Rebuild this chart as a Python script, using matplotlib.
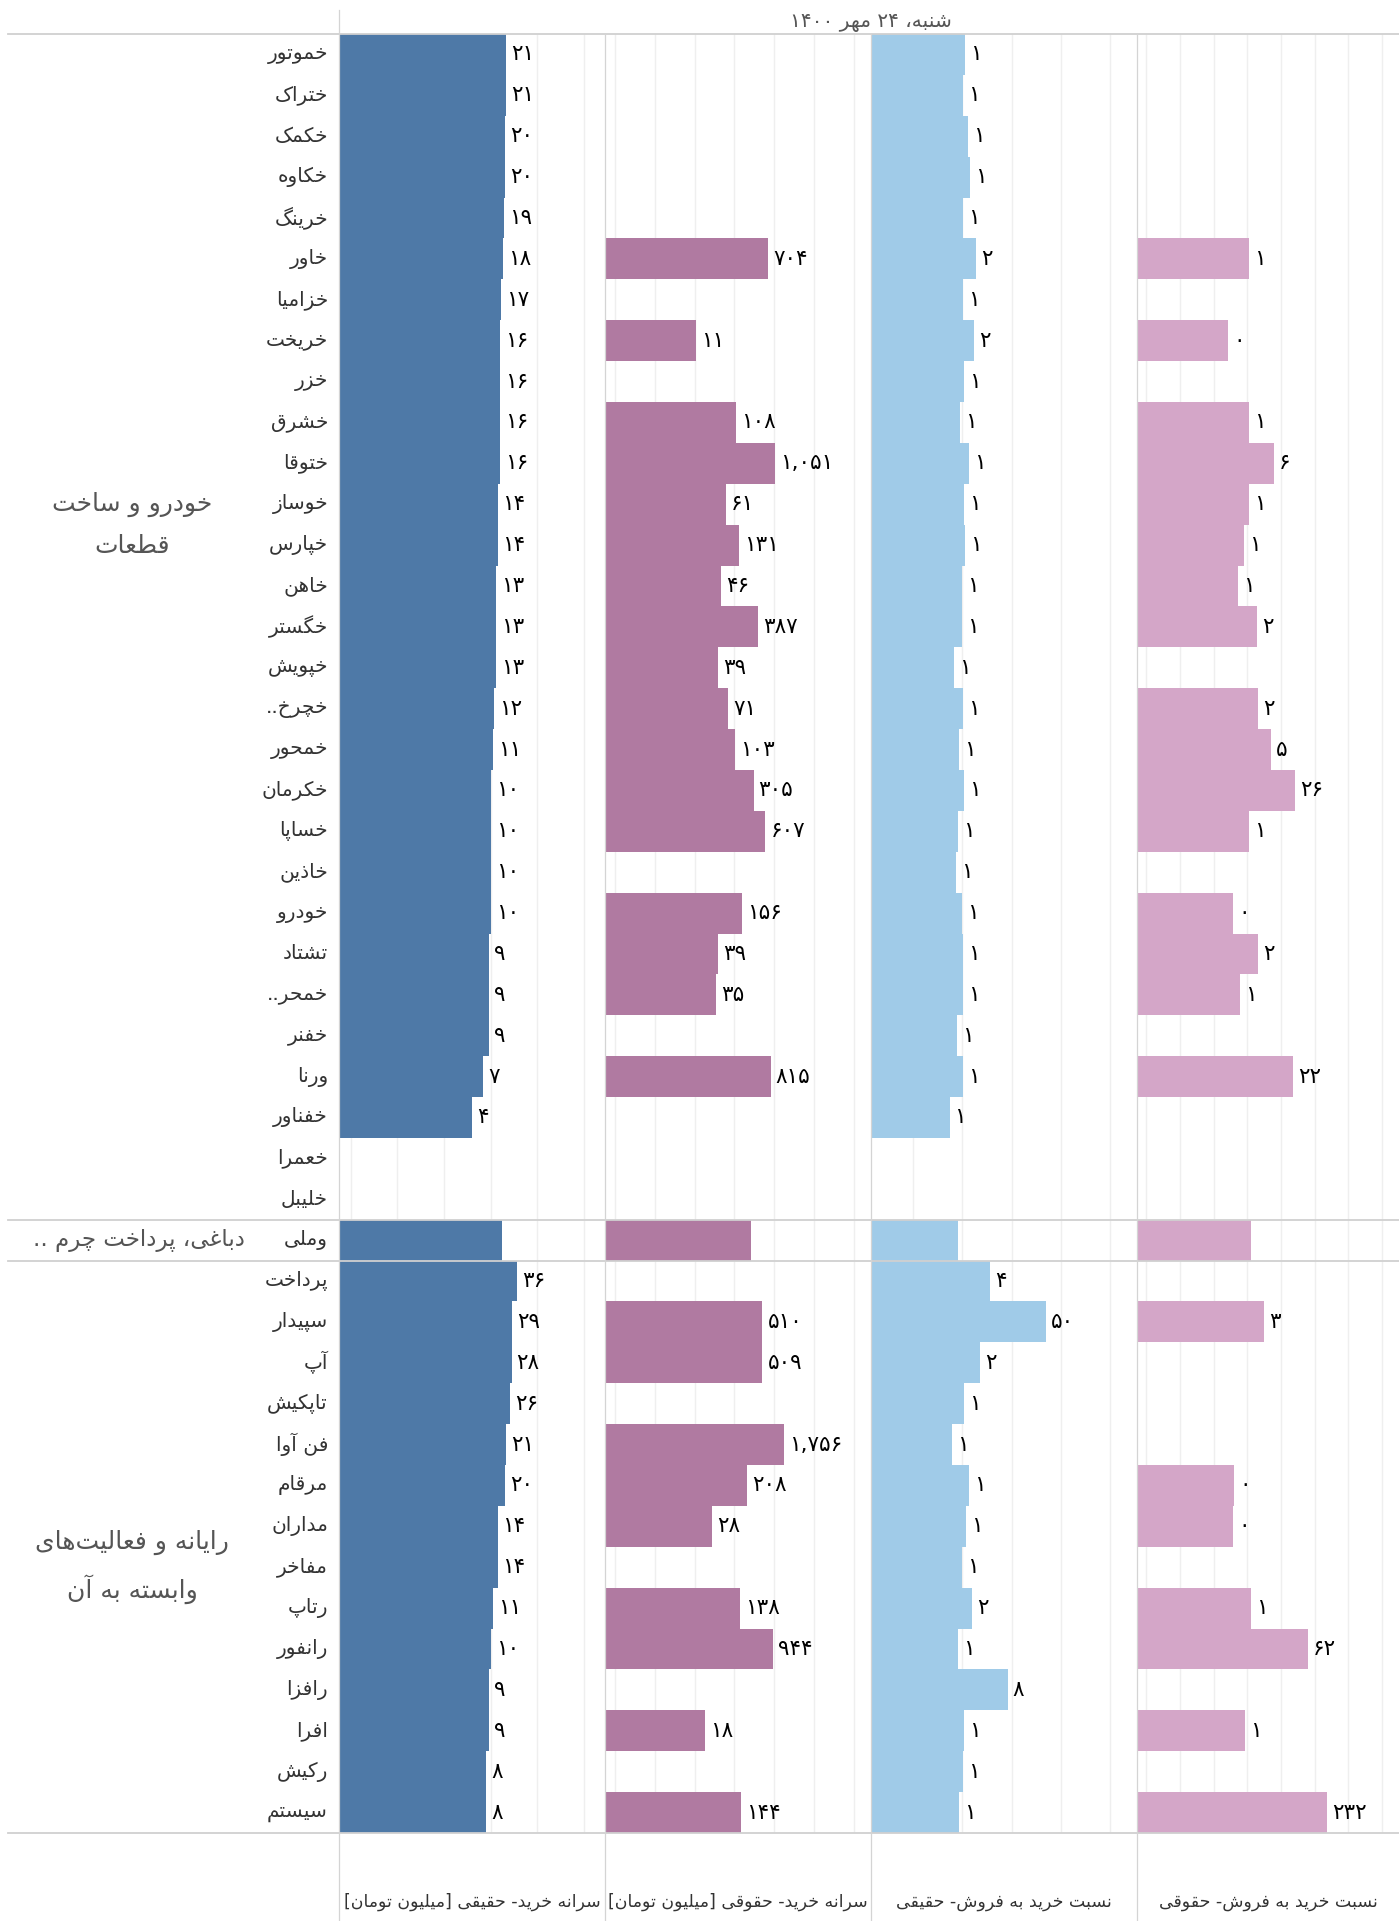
import re
import matplotlib
matplotlib.use("Agg")
import matplotlib.pyplot as plt
from matplotlib.lines import Line2D

plt.rcParams['font.family'] = ['DejaVu Sans']

# ---------------- data ----------------
title = "شنبه، ۲۴ مهر ۱۴۰۰"
group_names = ["خودرو و ساخت\nقطعات", "دباغی، پرداخت چرم ..", "رایانه و فعالیت\u200cهای\nوابسته به آن"]

auto_names = ["خموتور", "ختراک", "خکمک", "خکاوه", "خرینگ", "خاور", "خزامیا", "خریخت", "خزر", "خشرق",
              "ختوقا", "خوساز", "خپارس", "خاهن", "خگستر", "خپویش", "خچرخ..", "خمحور", "خکرمان", "خساپا",
              "خاذین", "خودرو", "تشتاد", "خمحر..", "خفنر", "ورنا", "خفناور", "خعمرا", "خلیبل"]
leather_names = ["وملی"]
it_names = ["پرداخت", "سپیدار", "آپ", "تاپکیش", "فن آوا", "مرقام", "مداران", "مفاخر", "رتاپ", "رانفور",
            "رافزا", "افرا", "رکیش", "سیستم"]

col_titles = ["سرانه خرید- حقیقی [میلیون تومان]", "سرانه خرید- حقوقی [میلیون تومان]",
              "نسبت خرید به فروش- حقیقی", "نسبت خرید به فروش- حقوقی"]

# per capita buy, real persons (million toman)
auto_pc_real = [21, 21, 20, 20, 19, 18, 17, 16, 16, 16, 16, 14, 14, 13, 13, 13, 12, 11, 10, 10,
                10, 10, 9, 9, 9, 7, 4, None, None]
leather_pc_real = [17.3]
it_pc_real = [36, 29, 28, 26, 21, 20, 14, 14, 11, 10, 9, 9, 8, 8]

# per capita buy, legal persons
auto_pc_legal = [None, None, None, None, None, 704, None, 11, None, 108, 1051, 61, 131, 46, 387, 39,
                 71, 103, 305, 607, None, 156, 39, 35, None, 815, None, None, None]
leather_pc_legal = [262]
it_pc_legal = [None, 510, 509, None, 1756, 208, 28, None, 138, 944, None, 18, None, 144]

# buy / sell ratio, real persons
auto_ratio_real = [1.13, 1.03, 1.31, 1.43, 1.03, 1.9, 1.03, 1.73, 1.08, 0.9, 1.37, 1.08, 1.13, 0.99,
                   0.99, 0.68, 1.03, 0.86, 1.08, 0.82, 0.74, 0.99, 1.03, 1.03, 0.78, 1.03, 0.55,
                   None, None]
leather_ratio_real = [0.82]
it_ratio_real = [3.66, 50.4, 2.3, 1.08, 0.62, 1.37, 1.19, 0.99, 1.57, 0.82, 8.3, 1.08, 1.03, 0.86]

# buy / sell ratio, legal persons
auto_ratio_legal = [None, None, None, None, None, 1.12, None, 0.27, None, 1.12, 6.2, 1.12, 0.8, 0.53,
                    1.94, None, 2.08, 5.05, 26, 1.12, None, 0.38, 2.08, 0.6, None, 22.4, None, None, None]
leather_ratio_legal = [1.29]
it_ratio_legal = [None, 3.1, None, None, None, 0.4, 0.38, None, 1.29, 62, None, 0.85, None, 232]

# ---------------- persian text helpers ----------------
FORMS = {
    '\u0627': ('\uFE8D', '\uFE8E', None, None),
    '\u0622': ('\uFE81', '\uFE82', None, None),
    '\u0628': ('\uFE8F', '\uFE90', '\uFE91', '\uFE92'),
    '\u067E': ('\uFB56', '\uFB57', '\uFB58', '\uFB59'),
    '\u062A': ('\uFE95', '\uFE96', '\uFE97', '\uFE98'),
    '\u062B': ('\uFE99', '\uFE9A', '\uFE9B', '\uFE9C'),
    '\u062C': ('\uFE9D', '\uFE9E', '\uFE9F', '\uFEA0'),
    '\u0686': ('\uFB7A', '\uFB7B', '\uFB7C', '\uFB7D'),
    '\u062D': ('\uFEA1', '\uFEA2', '\uFEA3', '\uFEA4'),
    '\u062E': ('\uFEA5', '\uFEA6', '\uFEA7', '\uFEA8'),
    '\u062F': ('\uFEA9', '\uFEAA', None, None),
    '\u0630': ('\uFEAB', '\uFEAC', None, None),
    '\u0631': ('\uFEAD', '\uFEAE', None, None),
    '\u0632': ('\uFEAF', '\uFEB0', None, None),
    '\u0698': ('\uFB8A', '\uFB8B', None, None),
    '\u0633': ('\uFEB1', '\uFEB2', '\uFEB3', '\uFEB4'),
    '\u0634': ('\uFEB5', '\uFEB6', '\uFEB7', '\uFEB8'),
    '\u0635': ('\uFEB9', '\uFEBA', '\uFEBB', '\uFEBC'),
    '\u0636': ('\uFEBD', '\uFEBE', '\uFEBF', '\uFEC0'),
    '\u0637': ('\uFEC1', '\uFEC2', '\uFEC3', '\uFEC4'),
    '\u0638': ('\uFEC5', '\uFEC6', '\uFEC7', '\uFEC8'),
    '\u0639': ('\uFEC9', '\uFECA', '\uFECB', '\uFECC'),
    '\u063A': ('\uFECD', '\uFECE', '\uFECF', '\uFED0'),
    '\u0641': ('\uFED1', '\uFED2', '\uFED3', '\uFED4'),
    '\u0642': ('\uFED5', '\uFED6', '\uFED7', '\uFED8'),
    '\u06A9': ('\uFB8E', '\uFB8F', '\uFB90', '\uFB91'),
    '\u06AF': ('\uFB92', '\uFB93', '\uFB94', '\uFB95'),
    '\u0644': ('\uFEDD', '\uFEDE', '\uFEDF', '\uFEE0'),
    '\u0645': ('\uFEE1', '\uFEE2', '\uFEE3', '\uFEE4'),
    '\u0646': ('\uFEE5', '\uFEE6', '\uFEE7', '\uFEE8'),
    '\u0648': ('\uFEED', '\uFEEE', None, None),
    '\u0647': ('\uFEE9', '\uFEEA', '\uFEEB', '\uFEEC'),
    '\u06CC': ('\uFBFC', '\uFBFD', '\uFBFE', '\uFBFF'),
}
LAM_ALEF = {'\u0627': ('\uFEFB', '\uFEFC'), '\u0622': ('\uFEF5', '\uFEF6')}
DIGITS = '0123456789\u06F0\u06F1\u06F2\u06F3\u06F4\u06F5\u06F6\u06F7\u06F8\u06F9'
MIRROR = str.maketrans('[]()', '][)(')


def shape(s):
    s = s.replace('\u064A', '\u06CC').replace('\u0649', '\u06CC').replace('\u0643', '\u06A9')
    out = []
    i = 0
    n = len(s)
    while i < n:
        c = s[i]
        f = FORMS.get(c)
        if f is None:
            if c != '\u200c':
                out.append(c)
            i += 1
            continue
        prev = s[i - 1] if i > 0 else ''
        nxt = s[i + 1] if i + 1 < n else ''
        jp = prev in FORMS and FORMS[prev][2] is not None
        if c == '\u0644' and nxt in LAM_ALEF:
            out.append(LAM_ALEF[nxt][1 if jp else 0])
            i += 2
            continue
        jn = f[2] is not None and nxt in FORMS
        if jp and jn:
            out.append(f[3])
        elif jp:
            out.append(f[1])
        elif jn:
            out.append(f[2])
        else:
            out.append(f[0])
        i += 1
    return ''.join(out)


def fa(s):
    lines = []
    for line in s.split('\n'):
        t = shape(line)
        runs = re.findall(r'[%s]+(?:[.,][%s]+)*|[^%s]+' % (DIGITS, DIGITS, DIGITS), t)
        vis = []
        for r in reversed(runs):
            if r[0] in DIGITS:
                vis.append(r)
            else:
                vis.append(r[::-1].translate(MIRROR))
        lines.append(''.join(vis))
    return '\n'.join(lines)


def pdigits(s):
    return s.translate(str.maketrans('0123456789', '۰۱۲۳۴۵۶۷۸۹'))


# ---------------- assemble ----------------
names = auto_names + leather_names + it_names
columns = [auto_pc_real + leather_pc_real + it_pc_real,
           auto_pc_legal + leather_pc_legal + it_pc_legal,
           auto_ratio_real + leather_ratio_real + it_ratio_real,
           auto_ratio_legal + leather_ratio_legal + it_ratio_legal]
group_sizes = [len(auto_names), len(leather_names), len(it_names)]
no_label_rows = set(range(len(auto_names), len(auto_names) + len(leather_names)))
fmts = [lambda v: str(round(v)), lambda v: f"{round(v):,}",
        lambda v: str(round(v)), lambda v: str(round(v))]
n_rows = len(names)

# layout (pixels) and log scale for each pane
W, H = 1399, 1921
top_px, bot_px = 34, 1833
panes = [dict(x0=339, x1=605, one=444.0, dec=46.7, color="#4e79a7"),
         dict(x0=605, x1=871, one=655.0, dec=39.7, color="#b07aa1"),
         dict(x0=871, x1=1137, one=962.3, dec=49.2, color="#a0cbe8"),
         dict(x0=1137, x1=1399, one=1247.3, dec=33.67, color="#d4a6c8")]
row_h = (bot_px - top_px) / n_rows

fig = plt.figure(figsize=(W / 100, H / 100), dpi=100)
fig.patch.set_facecolor("white")


def fx(px):
    return px / W


def fy(py):
    return 1 - py / H


def hline(y, x0=8, x1=W, color="#d0d0d0", lw=1.3):
    fig.add_artist(Line2D([fx(x0), fx(x1)], [fy(y), fy(y)], transform=fig.transFigure,
                          color=color, lw=lw, zorder=5))


def vline(x, y0, y1=H, color="#d4d4d4", lw=0.9):
    fig.add_artist(Line2D([fx(x), fx(x)], [fy(y0), fy(y1)], transform=fig.transFigure,
                          color=color, lw=lw, zorder=5))


ax_h = (bot_px - top_px) / H
for k, p in enumerate(panes):
    ax = fig.add_axes([fx(p["x0"]), fy(bot_px), (p["x1"] - p["x0"]) / W, ax_h])
    ax.set_xscale("log")
    lo = 10 ** ((p["x0"] - p["one"]) / p["dec"])
    hi = 10 ** ((p["x1"] - p["one"]) / p["dec"])
    ax.set_xlim(lo, hi)
    ax.set_ylim(n_rows - 0.5, -0.5)
    ax.axis("off")
    for e in range(-5, 8):
        if lo < 10.0 ** e < hi:
            ax.axvline(10.0 ** e, color="#efefef", lw=1.0, zorder=0)
    vals = columns[k]
    ys = [i for i, v in enumerate(vals) if v is not None]
    ws = [vals[i] - lo for i in ys]
    ax.barh(ys, ws, left=lo, height=1.0, color=p["color"], lw=0, zorder=2, antialiased=False)
    for i in ys:
        if i in no_label_rows:
            continue
        ax.annotate(pdigits(fmts[k](vals[i])), xy=(vals[i], i), xytext=(5, 0),
                    textcoords="offset pixels", ha="left", va="center",
                    fontsize=15.5, color="black", zorder=3)

# row + group labels
ax_l = fig.add_axes([0, fy(bot_px), fx(339), ax_h])
ax_l.set_xlim(0, 339)
ax_l.set_ylim(n_rows - 0.5, -0.5)
ax_l.axis("off")
for i, nm in enumerate(names):
    ax_l.text(328, i, fa(nm), ha="right", va="center", fontsize=14.5, color="#333333")

ax_l.text(132, 11.5, fa(group_names[0]), ha="center", va="center", fontsize=18,
          color="#555555", linespacing=1.9)
ax_l.text(245, group_sizes[0], fa(group_names[1]), ha="right", va="center", fontsize=16.5,
          color="#555555")
ax_l.text(132, 37.0, fa(group_names[2]), ha="center", va="center", fontsize=18,
          color="#555555", linespacing=1.8)

# grid frame
hline(top_px)
acc = 0
for g in group_sizes:
    acc += g
    hline(top_px + acc * row_h)
vline(339, 10)
for p in panes[1:]:
    vline(p["x0"], top_px)

# title and column titles
fig.text(fx(871), fy(23), fa(title), ha="center", va="center", fontsize=14.5, color="#555555")
for k, p in enumerate(panes):
    fig.text(fx((p["x0"] + p["x1"]) / 2), fy(1902), fa(col_titles[k]), ha="center",
             va="center", fontsize=12.5, color="#333333")

fig.savefig("out.png", dpi=100, facecolor="white")
